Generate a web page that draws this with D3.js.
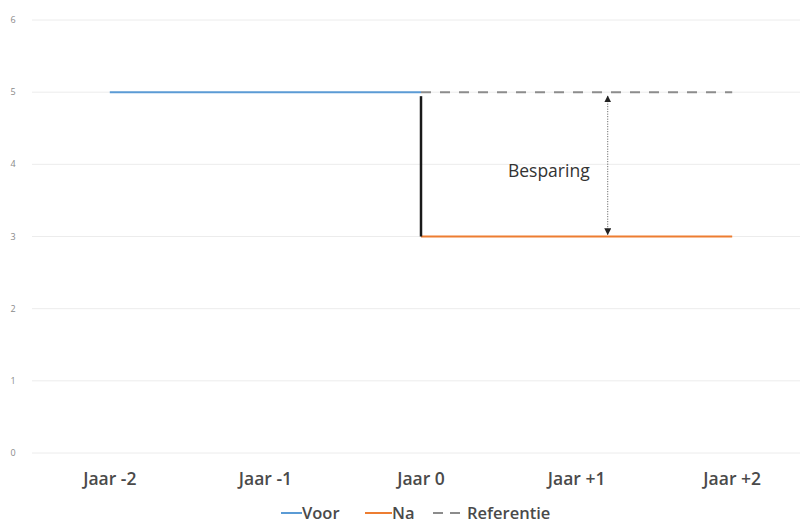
<!DOCTYPE html>
<html>
<head>
<meta charset="utf-8">
<script src="https://cdn.jsdelivr.net/npm/d3@7"></script>
<style>
  body { margin: 0; background: #fff; }
  text { font-family: "Open Sans", "Liberation Sans", sans-serif; }
</style>
</head>
<body>
<div id="myPlot"></div>
<script>
// Dimensions
const width = 806;
const height = 523;
const plotLeft = 32, plotRight = 810, plotTop = 20, plotBottom = 453;

// Data
const categories = ["Jaar -2", "Jaar -1", "Jaar 0", "Jaar +1", "Jaar +2"];
const voor = [5, 5, 5, null, null];
const na = [null, null, 3, 3, 3];
const referentie = [null, null, 5, 5, 5];
const yTicks = [0, 1, 2, 3, 4, 5, 6];
const savingFrom = 5, savingTo = 3;

const svg = d3.select("#myPlot")
  .append("svg")
  .attr("width", width)
  .attr("height", height);

const x = d3.scaleBand()
  .domain(categories)
  .range([plotLeft, plotRight]);

const y = d3.scaleLinear()
  .domain([0, 6])
  .range([plotBottom, plotTop]);

const cx = c => x(c) + x.bandwidth() / 2;

// Gridlines
svg.append("g")
  .selectAll("line")
  .data(yTicks)
  .join("line")
  .attr("x1", plotLeft)
  .attr("x2", 800)
  .attr("y1", d => y(d))
  .attr("y2", d => y(d))
  .attr("stroke", "#ececec")
  .attr("stroke-width", 1);

// Y labels
svg.append("g")
  .selectAll("text")
  .data(yTicks)
  .join("text")
  .attr("x", 13)
  .attr("y", d => y(d) + 3)
  .attr("text-anchor", "middle")
  .style("font-size", "9px")
  .style("fill", "#8a8a8a")
  .text(d => d);

// X labels
svg.append("g")
  .selectAll("text")
  .data(categories)
  .join("text")
  .attr("x", d => cx(d))
  .attr("y", plotBottom + 32)
  .attr("text-anchor", "middle")
  .style("font-size", "17.5px")
  .style("font-weight", 600)
  .style("fill", "#4a4a4a")
  .text(d => d);

function series(values, color, dash) {
  const line = d3.line()
    .defined(d => d[1] != null)
    .x(d => cx(d[0]))
    .y(d => y(d[1]));
  svg.append("path")
    .datum(categories.map((c, i) => [c, values[i]]))
    .attr("d", line)
    .attr("fill", "none")
    .attr("stroke", color)
    .attr("stroke-width", 2)
    .attr("stroke-dasharray", dash);
}

series(referentie, "#8c8c8c", "10,9");
series(voor, "#5b9bd5", null);
series(na, "#ed7d31", null);

// Vertical drop at Jaar 0
svg.append("line")
  .attr("x1", cx("Jaar 0"))
  .attr("x2", cx("Jaar 0"))
  .attr("y1", y(savingFrom) + 4)
  .attr("y2", y(savingTo))
  .attr("stroke", "#1a1a1a")
  .attr("stroke-width", 2.5);

// Saving arrow
const defs = svg.append("defs");
defs.append("marker")
  .attr("id", "arrow")
  .attr("viewBox", "0 0 10 10")
  .attr("refX", 9).attr("refY", 5)
  .attr("markerWidth", 7).attr("markerHeight", 7)
  .attr("orient", "auto-start-reverse")
  .append("path")
  .attr("d", "M0,0 L10,5 L0,10 z")
  .attr("fill", "#222");

const ax = cx("Jaar +1") + x.bandwidth() * 0.2;
svg.append("line")
  .attr("x1", ax).attr("x2", ax)
  .attr("y1", y(savingFrom) + 4)
  .attr("y2", y(savingTo) - 2)
  .attr("stroke", "#555")
  .attr("stroke-width", 1)
  .attr("stroke-dasharray", "1,1.5")
  .attr("marker-start", "url(#arrow)")
  .attr("marker-end", "url(#arrow)");

svg.append("text")
  .attr("x", (cx("Jaar 0") + cx("Jaar +1")) / 2 + 50)
  .attr("y", y(4) + 13)
  .attr("text-anchor", "middle")
  .style("font-size", "17.5px")
  .style("font-weight", 500)
  .style("fill", "#333")
  .text("Besparing");

// Legend
const legend = [
  { name: "Voor", color: "#5b9bd5", dash: null, x: 281, w: 21, tx: 302 },
  { name: "Na", color: "#ed7d31", dash: null, x: 365, w: 27, tx: 392 },
  { name: "Referentie", color: "#8c8c8c", dash: "10,7", x: 433, w: 27, tx: 467 }
];
const lg = svg.append("g").attr("transform", "translate(0,513)");
legend.forEach(d => {
  lg.append("line")
    .attr("x1", d.x).attr("x2", d.x + d.w)
    .attr("y1", 0).attr("y2", 0)
    .attr("stroke", d.color)
    .attr("stroke-width", 2)
    .attr("stroke-dasharray", d.dash);
  lg.append("text")
    .attr("x", d.tx)
    .attr("y", 6)
    .style("font-size", "16.5px")
    .style("font-weight", 600)
    .style("fill", "#4a4a4a")
    .text(d.name);
});
</script>
</body>
</html>
